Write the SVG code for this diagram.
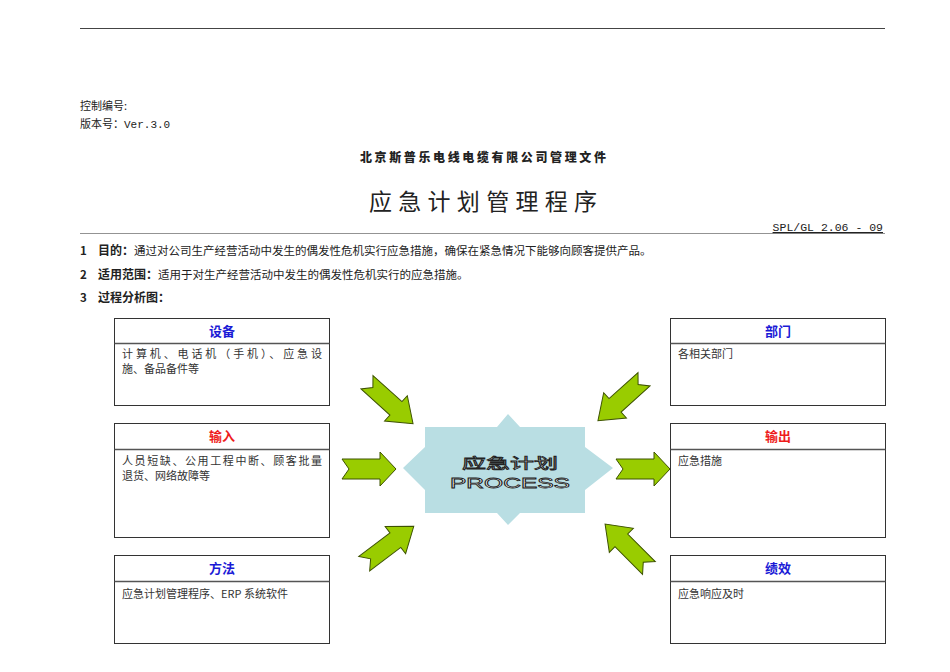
<svg xmlns="http://www.w3.org/2000/svg" width="950" height="672" viewBox="0 0 950 672">
<style>
.cn{font-family:"Noto Sans CJK SC","Liberation Sans",sans-serif;fill:#222}
.mono{font-family:"Liberation Mono","Noto Sans CJK SC",monospace;fill:#222}
.b{font-weight:bold}
.box{fill:#fff;stroke:#333;stroke-width:1}
.div{stroke:#555;stroke-width:1.5}
.ht{font-family:"Noto Sans CJK SC","Liberation Sans",sans-serif;font-weight:bold;font-size:13px;text-anchor:middle}
.blue{fill:#1a1ad6}
.red{fill:#ee1c1c}
.bt{font-family:"Noto Sans CJK SC","Liberation Sans",sans-serif;font-size:11px;fill:#333}
.arr{fill:#99cc00;stroke:#3d5200;stroke-width:1}
.pt{font-family:"Liberation Sans","Noto Sans CJK SC",sans-serif;fill:#fff;stroke:#222;stroke-width:0.8;text-anchor:middle}
</style>
<defs>
<polygon id="arrH" points="-27,-10 11,-10 11,-17 27,0 11,17 11,10 -27,10 -20,0"/>
<polygon id="arrD" points="-31,-9 8,-9 8,-17 31,0 8,17 8,9 -31,9 -23,0"/>
</defs>
<rect width="950" height="672" fill="#fff"/>
<line x1="80" y1="28.5" x2="885" y2="28.5" stroke="#444" stroke-width="1"/>
<text x="80" y="110" class="cn" font-size="11">控制编号:</text>
<text x="80" y="128" class="cn" font-size="11">版本号：<tspan class="mono" font-size="11">Ver.3.0</tspan></text>
<text x="483" y="162" class="cn" font-size="12" font-weight="900" text-anchor="middle" textLength="246">北京斯普乐电线电缆有限公司管理文件</text>
<text x="483" y="210" class="cn" font-size="23" text-anchor="middle" textLength="228" fill="#111">应急计划管理程序</text>
<line x1="80" y1="233.5" x2="885" y2="233.5" stroke="#777" stroke-width="0.8"/>
<text x="883" y="231" class="mono" font-size="11.5" text-anchor="end" text-decoration="underline">SPL/GL 2.06 - 09</text>
<text x="80" y="255" class="cn" font-size="11.5"><tspan class="b">1</tspan><tspan x="98" class="b" font-size="12">目的：</tspan><tspan font-size="11.5">通过对公司生产经营活动中发生的偶发性危机实行应急措施，确保在紧急情况下能够向顾客提供产品。</tspan></text>
<text x="80" y="279" class="cn" font-size="11.5"><tspan class="b">2</tspan><tspan x="98" class="b" font-size="12">适用范围：</tspan><tspan font-size="11.5">适用于对生产经营活动中发生的偶发性危机实行的应急措施。</tspan></text>
<text x="80" y="302" class="cn" font-size="11.5"><tspan class="b">3</tspan><tspan x="98" class="b" font-size="12">过程分析图：</tspan></text>

<g id="node-equipment">
<rect class="box" x="114.5" y="318.5" width="215" height="87"/>
<line class="div" x1="114.5" y1="343.5" x2="329.5" y2="343.5"/>
<text class="ht blue" x="222" y="335.5">设备</text>
<text class="bt" x="122" y="358" textLength="200">计算机、电话机（手机）、应急设</text>
<text class="bt" x="122" y="373">施、备品备件等</text>
</g>
<g id="node-input">
<rect class="box" x="114.5" y="423.5" width="215" height="114"/>
<line class="div" x1="114.5" y1="449.5" x2="329.5" y2="449.5"/>
<text class="ht red" x="222" y="441">输入</text>
<text class="bt" x="122" y="465" textLength="200">人员短缺、公用工程中断、顾客批量</text>
<text class="bt" x="122" y="480">退货、网络故障等</text>
</g>
<g id="node-method">
<rect class="box" x="114.5" y="555.5" width="215" height="88"/>
<line class="div" x1="114.5" y1="581.5" x2="329.5" y2="581.5"/>
<text class="ht blue" x="222" y="573">方法</text>
<text class="bt" x="122" y="598">应急计划管理程序、ERP 系统软件</text>
</g>
<g id="node-dept">
<rect class="box" x="670.5" y="318.5" width="215" height="87"/>
<line class="div" x1="670.5" y1="343.5" x2="885.5" y2="343.5"/>
<text class="ht blue" x="778" y="335.5">部门</text>
<text class="bt" x="678" y="358">各相关部门</text>
</g>
<g id="node-output">
<rect class="box" x="670.5" y="423.5" width="215" height="114"/>
<line class="div" x1="670.5" y1="449.5" x2="885.5" y2="449.5"/>
<text class="ht red" x="778" y="441">输出</text>
<text class="bt" x="678" y="465">应急措施</text>
</g>
<g id="node-performance">
<rect class="box" x="670.5" y="555.5" width="215" height="88"/>
<line class="div" x1="670.5" y1="581.5" x2="885.5" y2="581.5"/>
<text class="ht blue" x="778" y="573">绩效</text>
<text class="bt" x="678" y="598">应急响应及时</text>
</g>
<g id="node-process">
<polygon fill="#b9dee3" points="425,427 497,427 508,414 520,427 585,427 585,447 613,468 585,490 585,513 520,513 508,525 497,513 425,513 425,490 403,468 425,447"/>
<text class="pt" x="510" y="468" font-size="14" textLength="96" lengthAdjust="spacingAndGlyphs">应急计划</text>
<text class="pt" x="510" y="488" font-size="15.5" textLength="120" lengthAdjust="spacingAndGlyphs">PROCESS</text>
</g>
<g id="connectors">
<use href="#arrD" class="arr" transform="translate(390,403) rotate(42)"/>
<use href="#arrD" class="arr" transform="translate(621,400) rotate(138)"/>
<use href="#arrH" class="arr" transform="translate(369,469)"/>
<use href="#arrH" class="arr" transform="translate(643,469)"/>
<use href="#arrD" class="arr" transform="translate(389,545) rotate(-37)"/>
<use href="#arrD" class="arr" transform="translate(627,546) rotate(-135)"/>
</g>
</svg>
